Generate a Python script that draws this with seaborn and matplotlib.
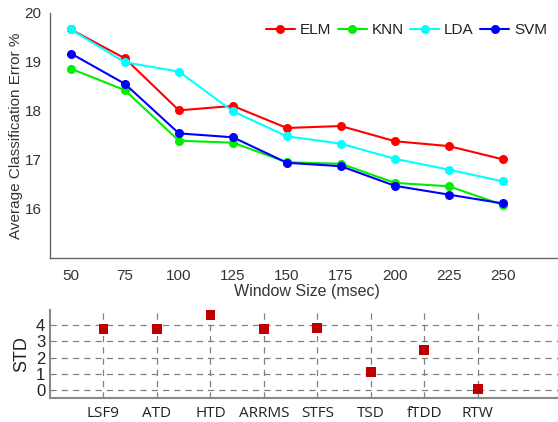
import numpy as np
import pandas as pd
import matplotlib
matplotlib.use("Agg")
import matplotlib.pyplot as plt
import seaborn as sns

window_sizes = [50, 75, 100, 125, 150, 175, 200, 225, 250]
elm = [19.66, 19.07, 18.01, 18.10, 17.65, 17.69, 17.38, 17.28, 17.01]
knn = [18.86, 18.42, 17.39, 17.35, 16.95, 16.92, 16.53, 16.46, 16.08]
lda = [19.66, 18.99, 18.80, 17.99, 17.48, 17.33, 17.02, 16.80, 16.56]
svm = [19.17, 18.55, 17.54, 17.46, 16.94, 16.87, 16.47, 16.29, 16.11]
classifiers = ["ELM", "KNN", "LDA", "SVM"]
colors = ["#ff0000", "#00ee00", "#00ffff", "#0000ff"]

features = ["LSF9", "ATD", "HTD", "ARRMS", "STFS", "TSD", "fTDD", "RTW"]
std_vals = [3.75, 3.73, 4.60, 3.75, 3.82, 1.13, 2.44, 0.06]

sns.set_theme(style="white")
plt.rcParams["font.family"] = ["Liberation Sans", "DejaVu Sans"]

df = pd.DataFrame({
    "Window": window_sizes * 4,
    "Error": elm + knn + lda + svm,
    "Classifier": sum([[c] * len(window_sizes) for c in classifiers], []),
})

fig = plt.figure(figsize=(5.58, 4.22), dpi=100)
ax1 = fig.add_axes([0.0896, 0.389, 0.92, 0.5806])
sns.lineplot(data=df, x="Window", y="Error", hue="Classifier", palette=colors,
             marker="o", markersize=6.5, markeredgewidth=0, linewidth=1.5, ax=ax1)
ax1.set_xlim(40.3, 278)
ax1.set_ylim(15, 20)
ax1.set_xticks(window_sizes)
ax1.set_yticks([16, 17, 18, 19, 20])
ax1.tick_params(axis="both", direction="in", length=4, color="#555555",
                labelsize=11, labelcolor="#333333", pad=6)
ax1.tick_params(axis="x", pad=8)
for s in ["top", "right"]:
    ax1.spines[s].set_visible(False)
for s in ["left", "bottom"]:
    ax1.spines[s].set_color("#666666")
    ax1.spines[s].set_linewidth(1.0)
ax1.set_xlabel("Window Size (msec)", fontsize=11.5, color="#333333", labelpad=1)
ax1.set_ylabel("Average Classification Error %", fontsize=11, color="#333333", labelpad=1)
leg = ax1.legend(ncol=4, loc="upper right", bbox_to_anchor=(0.995, 1.015), frameon=False,
                 fontsize=11, handlelength=1.9, handletextpad=0.3, columnspacing=0.45)
for t in leg.get_texts():
    t.set_color("#222222")

ax2 = fig.add_axes([0.0896, 0.0576, 0.92, 0.2078])
sns.scatterplot(x=features, y=std_vals, marker="s", s=50, color="#c00000",
                edgecolor="none", ax=ax2, zorder=3)
ax2.set_xlim(-1, 8.6)
ax2.set_ylim(-0.47, 4.92)
ax2.set_yticks([0, 1, 2, 3, 4])
ax2.grid(True, linestyle=(0, (5, 4)), color="#808080", linewidth=0.9)
ax2.set_axisbelow(True)
for s in ["top", "right"]:
    ax2.spines[s].set_visible(False)
for s in ["left", "bottom"]:
    ax2.spines[s].set_color("#888888")
    ax2.spines[s].set_linewidth(1.5)
ax2.tick_params(axis="both", length=0, labelsize=11, labelcolor="#222222")
ax2.tick_params(axis="y", labelsize=12)
ax2.tick_params(axis="x", pad=6)
for lab in ax2.get_xticklabels():
    lab.set_fontfamily(["Open Sans", "DejaVu Sans"])
ax2.set_ylabel("STD", fontsize=13, color="#222222", labelpad=4)

fig.savefig("out.png", dpi=100)
